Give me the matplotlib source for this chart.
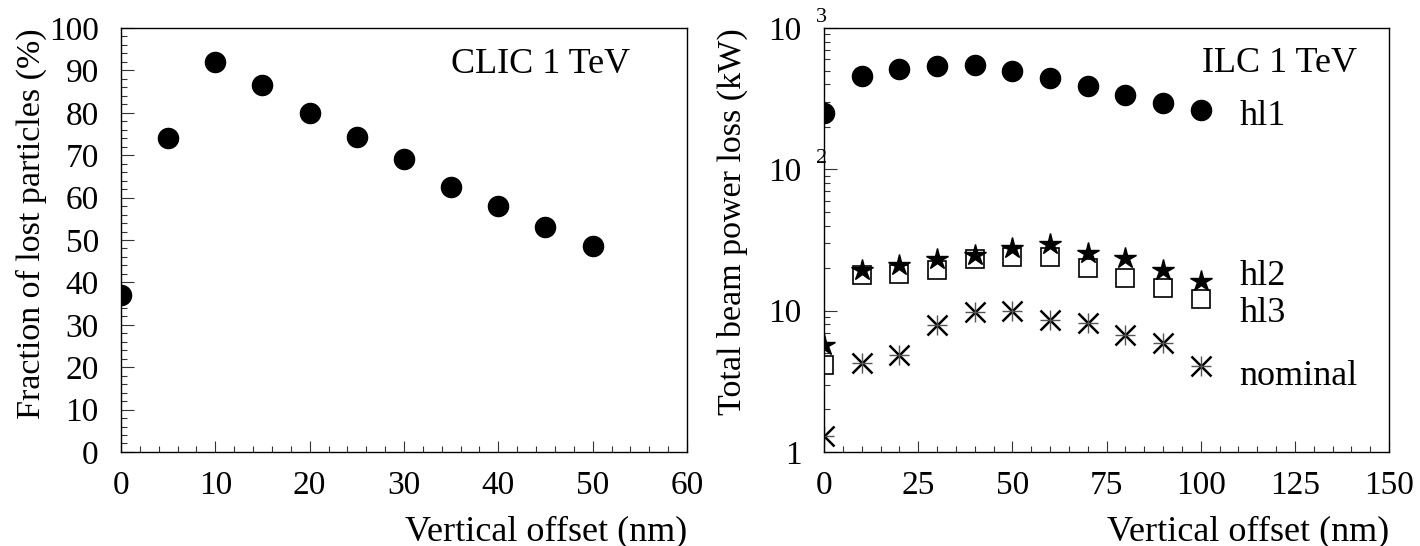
"""
plot.py — beam loss vs vertical offset, CLIC and ILC at 1 TeV.

Left:  fraction of lost particles (CLIC 1 TeV)
Right: total beam power loss per configuration (ILC 1 TeV, log scale)
"""

import matplotlib
matplotlib.use('Agg')
import matplotlib.pyplot as plt
import matplotlib.transforms as mtransforms
from matplotlib.ticker import MultipleLocator, LogLocator, FixedLocator, NullFormatter

plt.rcParams['font.family'] = ['Liberation Serif', 'DejaVu Serif']
plt.rcParams['mathtext.fontset'] = 'custom'
plt.rcParams['mathtext.rm'] = 'Liberation Serif'

# ── Data ──────────────────────────────────────────────────────────────────────

clic_offset = [0, 5, 10, 15, 20, 25, 30, 35, 40, 45, 50]
clic_lost = [37, 74, 92, 86.5, 80, 74.3, 69, 62.5, 58, 53, 48.5]

ilc_offset = [0, 10, 20, 30, 40, 50, 60, 70, 80, 90, 100]
ilc_hl1 = [249, 455, 513, 540, 546, 496, 445, 391, 336, 295, 262]
ilc_hl2 = [5.7, 19.5, 21.0, 23.1, 24.9, 27.9, 29.8, 25.6, 23.5, 19.5, 16.3]
ilc_hl3 = [4.1, 17.9, 18.1, 19.5, 23.1, 23.8, 23.8, 20.1, 16.9, 14.5, 12.1]
ilc_nominal = [1.29, 4.23, 4.82, 7.88, 9.78, 10.0, 8.59, 8.2, 6.76, 5.94, 4.07]

log_ticks = [1, 10, 100, 1000]
log_tick_labels = ['1', '10', '10', '10']
log_superscripts = {100: '2', 1000: '3'}

TICK_FS = 24
TEXT_FS = 26
YLABEL_FS = 24.5


def _style(ax):
    ax.tick_params(which='both', direction='in', top=False, right=False,
                   labelsize=TICK_FS, width=0.8, color='#333333')
    ax.tick_params(axis='y', which='major', length=9, pad=16)
    ax.tick_params(axis='y', which='minor', length=4.5)
    ax.tick_params(axis='x', which='major', length=8, pad=13)
    ax.tick_params(axis='x', which='minor', length=4)
    for s in ax.spines.values():
        s.set_linewidth(1.0)


fig = plt.figure(figsize=(14.2, 5.46), dpi=100)
ax1 = fig.add_axes([0.0852, 0.1722, 0.3986, 0.7765])
ax2 = fig.add_axes([0.5803, 0.1722, 0.3979, 0.7765])

# ── Left panel: CLIC ──────────────────────────────────────────────────────────

ax1.plot(clic_offset, clic_lost, 'o', color='black', markersize=14.5)
ax1.set_xlim(0, 60)
ax1.set_ylim(0, 100)
ax1.xaxis.set_major_locator(MultipleLocator(10))
ax1.xaxis.set_minor_locator(MultipleLocator(2))
ax1.yaxis.set_major_locator(MultipleLocator(10))
ax1.yaxis.set_minor_locator(MultipleLocator(2))
_style(ax1)
ax1.set_xlabel('Vertical offset (nm)', fontsize=TEXT_FS, loc='right')
ax1.set_ylabel('Fraction of lost particles (%)', fontsize=YLABEL_FS, loc='top')
ax1.xaxis.set_label_coords(1.0, -0.15)
ax1.yaxis.set_label_coords(-0.13, 1.0)
ax1.text(0.583, 0.894, 'CLIC 1 TeV', transform=ax1.transAxes,
         fontsize=TEXT_FS, ha='left', va='baseline')

# ── Right panel: ILC ──────────────────────────────────────────────────────────

ax2.set_yscale('log')
ax2.plot(ilc_offset, ilc_hl1, 'o', color='black', markersize=14.5)
ax2.plot(ilc_offset, ilc_hl3, 's', color='black', markerfacecolor='white',
         markersize=13.5, markeredgewidth=1.2)
ax2.plot(ilc_offset, ilc_hl2, '*', color='black', markersize=16)
ax2.plot(ilc_offset, ilc_nominal, 'x', color='black', markersize=15,
         markeredgewidth=1.8)
ax2.plot(ilc_offset, ilc_nominal, '+', color='#555555', markersize=15,
         markeredgewidth=1.0)
ax2.set_xlim(0, 150)
ax2.set_ylim(1, 1000)
ax2.xaxis.set_major_locator(MultipleLocator(25))
ax2.xaxis.set_minor_locator(MultipleLocator(5))
ax2.yaxis.set_major_locator(FixedLocator(log_ticks))
ax2.yaxis.set_minor_locator(LogLocator(base=10, subs=range(2, 10)))
ax2.yaxis.set_minor_formatter(NullFormatter())
ax2.set_yticklabels(log_tick_labels)
_style(ax2)

blend = mtransforms.blended_transform_factory(ax2.transAxes, ax2.transData)
for val, sup in log_superscripts.items():
    ax2.text(-0.0145, val * 1.1, sup, transform=blend, fontsize=16,
             ha='left', va='baseline', clip_on=False)

ax2.set_xlabel('Vertical offset (nm)', fontsize=TEXT_FS, loc='right')
ax2.set_ylabel('Total beam power loss (kW)', fontsize=YLABEL_FS, loc='top')
ax2.xaxis.set_label_coords(1.0, -0.15)
ax2.yaxis.set_label_coords(-0.135, 1.0)

ax2.text(0.669, 0.896, 'ILC 1 TeV', transform=ax2.transAxes,
         fontsize=TEXT_FS, ha='left', va='baseline')
ax2.text(0.735, 0.772, 'hl1', transform=ax2.transAxes,
         fontsize=TEXT_FS, ha='left', va='baseline')
ax2.text(0.735, 0.393, 'hl2', transform=ax2.transAxes,
         fontsize=TEXT_FS, ha='left', va='baseline')
ax2.text(0.735, 0.306, 'hl3', transform=ax2.transAxes,
         fontsize=TEXT_FS, ha='left', va='baseline')
ax2.text(0.735, 0.158, 'nominal', transform=ax2.transAxes,
         fontsize=TEXT_FS, ha='left', va='baseline')

fig.savefig('out.png', dpi=100)
